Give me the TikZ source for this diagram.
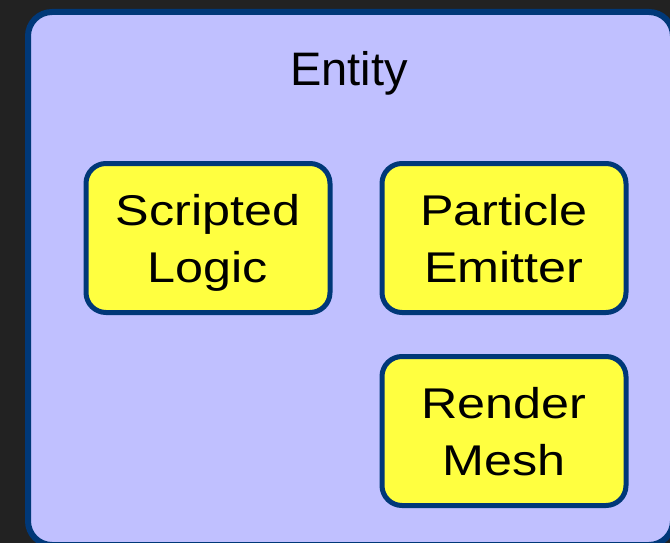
\documentclass[tikz,border=0pt]{standalone}
\usepackage{fontspec}
\setmainfont{Liberation Sans}
\newfontfamily\partfont[FakeStretch=1.17]{Liberation Sans}
\usetikzlibrary{positioning}
\definecolor{edgeblue}{RGB}{0,56,120}
\definecolor{entityfill}{RGB}{192,192,255}
\definecolor{compfill}{RGB}{255,255,64}
\definecolor{backdrop}{RGB}{34,34,34}

\begin{document}
\begin{tikzpicture}[x=1pt,y=-1pt,node distance=296pt,on grid,auto,
    component/.style={draw=edgeblue,fill=compfill,line width=5pt,rounded corners=20pt,
      minimum width=244pt,minimum height=149pt,align=center,
      text height=88pt,text depth=0pt,
      font=\partfont\fontsize{43}{57}\selectfont}]
  \fill[backdrop] (0,0) rectangle (670,543);
  \useasboundingbox (0,0) rectangle (670,543);
  % container
  \node[draw=edgeblue,fill=entityfill,line width=6pt,rounded corners=24pt,
    minimum width=645pt,minimum height=533pt,anchor=north west] (entity) at (25,9) {};
  \node[font=\fontsize{47}{56}\selectfont,anchor=base] (title) at (349,85) {Entity};
  % components
  \node[component] (logic) at (208,238) {Scripted\\Logic};
  \node[component,right=of logic] (emitter) {Particle\\Emitter};
  \node[component,below=193pt of emitter] (mesh) {Render\\Mesh};
\end{tikzpicture}
\end{document}
